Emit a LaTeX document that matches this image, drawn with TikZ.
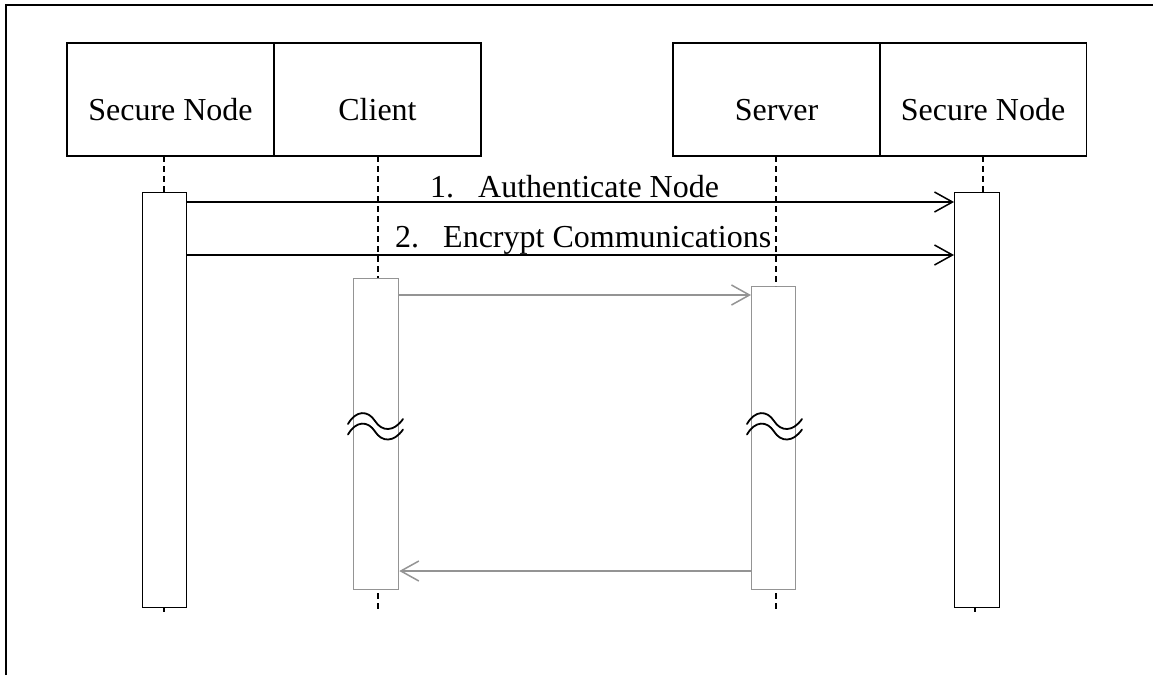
\documentclass[tikz,border=0pt]{standalone}
\usepackage{fontspec}
\setmainfont{Liberation Serif}
\usetikzlibrary{arrows.meta}
\begin{document}
\begin{tikzpicture}[x=1pt,y=-1pt,
  head/.style={draw,line width=1.4pt,inner sep=0pt,minimum width=207pt,text height=77pt,text depth=36pt,anchor=base,font=\fontsize{32}{38}\selectfont},
  actbar/.style={draw,line width=1.3pt,fill=white,inner sep=0pt,anchor=north west},
  grayact/.style={actbar,draw=black!42},
  life/.style={line width=1.5pt,dash pattern=on 6pt off 4pt},
  msg/.style={line width=1.5pt,-{Straight Barb[length=18pt,width=20pt,line width=1.5pt]}},
  graymsg/.style={msg,draw=black!42},
  lbl/.style={inner sep=0pt,anchor=base west,font=\fontsize{32}{38}\selectfont},
  wave/.style={line width=1.8pt,line cap=round}]
\useasboundingbox (0,0) rectangle (1153,675);
% frame
\draw[line width=2pt] (6,675) -- (6,5) -- (1153,5);
% heads
\node[head] (h1) at (170.5,120) {Secure Node};
\node[head] (h2) at (377.5,120) {Client};
\node[head] (h3) at (776.5,120) {Server};
\node[head] (h4) at (983,120) {Secure Node};
% lifeline anchor points
\coordinate (l1t) at (164,156);
\coordinate (l2t) at (378,156);
\coordinate (l3t) at (776,156);
\coordinate (l4t) at (983,156);
\coordinate (l1b) at (164,612);
\coordinate (l2b) at (378,612);
\coordinate (l3b) at (776,612);
\coordinate (l4b) at (975,612);
% activation bars
\node[actbar,minimum width=44pt,minimum height=415pt] (a1) at (142,192) {};
\node[actbar,minimum width=45pt,minimum height=415pt] (a4) at (954,192) {};
\node[grayact,minimum width=45pt,minimum height=311pt] (a2) at (353,278) {};
\node[grayact,minimum width=44pt,minimum height=303pt] (a3) at (751,286) {};
% lifelines
\draw[life] (l1t) -- (l1t |- a1.north);
\draw[life] (l2t) -- (l2t |- a2.north);
\draw[life] (l3t) -- (l3t |- a3.north);
\draw[life] (l4t) -- (l4t |- a4.north);
\draw[life] (l1b |- a1.south) -- (l1b);
\draw[life] ([yshift=-3pt]l2b |- a2.south) -- (l2b);
\draw[life] ([yshift=-3pt]l3b |- a3.south) -- (l3b);
\draw[life] (l4b |- a4.south) -- (l4b);
% messages
\coordinate (m1y) at (0,202);
\coordinate (m2y) at (0,255);
\coordinate (m3y) at (0,295);
\coordinate (m4y) at (0,571);
\draw[msg] (a1.east |- m1y) -- (a4.west |- m1y);
\draw[msg] (a1.east |- m2y) -- (a4.west |- m2y);
\draw[graymsg] (a2.east |- m3y) -- (a3.west |- m3y);
\draw[graymsg] (a3.west |- m4y) -- (a2.east |- m4y);
\node[lbl] (t1) at (430,197) {1.\hspace{24pt}Authenticate Node};
\node[lbl] (t2) at (395,247) {2.\hspace{24pt}Encrypt Communications};
% breaks
\foreach \dx in {0,399}{
  \foreach \dy in {0,10.5}{
    \begin{scope}[shift={(\dx,\dy)}]
      \draw[wave] (348,424) .. controls (356,410) and (368,410) .. (375,421) .. controls (382,432) and (394,432) .. (403,419);
    \end{scope}
  }
}
\end{tikzpicture}
\end{document}
